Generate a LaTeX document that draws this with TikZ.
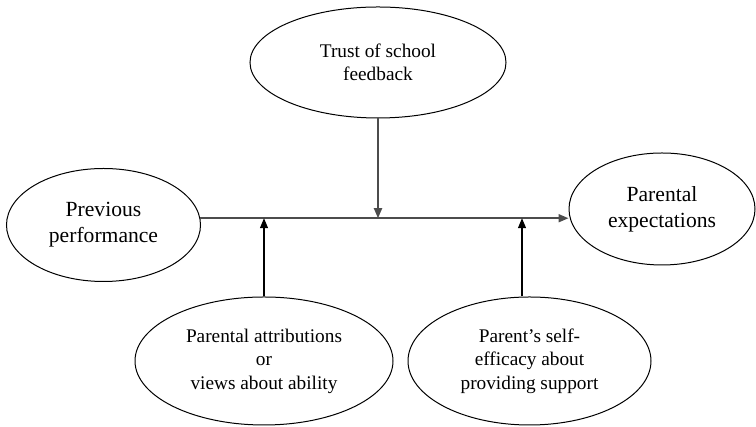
\documentclass[tikz,border=0pt]{standalone}
\usepackage{fontspec}
\setmainfont{Liberation Serif}
\usetikzlibrary{shapes.geometric,arrows.meta}

\begin{document}
\begin{tikzpicture}[x=0.5pt,y=0.5pt,
  font={\fontsize{9.65}{11.7}\selectfont},
  factor/.style={ellipse,draw,line width=0.5pt,inner sep=0pt,align=center},
  big/.style={font={\fontsize{10.8}{12.9}\selectfont}},
  link/.style={-{Triangle[length=5pt,width=4pt]},line width=0.65pt}]
\useasboundingbox (0,0) rectangle (756,427);

% factors
\node[factor,minimum width=128pt,minimum height=55.5pt] (trust) at (378,364.5)
  {Trust of school\\feedback};
\node[factor,big,minimum width=97pt,minimum height=56.5pt] (prev) at (103.5,202)
  {Previous\\performance};
\node[factor,big,minimum width=93pt,minimum height=56pt] (expect) at (662,218)
  {Parental\\expectations};
\node[factor,minimum width=129pt,minimum height=64pt] (attrib) at (264,66)
  {Parental attributions\\or\\views about ability};
\node[factor,minimum width=121.5pt,minimum height=64pt] (eff) at (529.5,66)
  {Parent's self-\\efficacy about\\providing support};

% main path
\draw[link,black!70,line width=0.9pt] (prev.4) -- (expect.west |- prev.4);

% moderators meet the main path
\coordinate (j1) at (attrib.north |- prev.4);
\coordinate (j2) at (trust.south |- prev.4);
\coordinate (j3) at (522,0 |- prev.4);

\draw[link,black!70,line width=0.9pt] (trust.south) -- (j2);
\draw[link] (attrib.north) -- (j1);
\draw[link] (j3 |- eff.north) -- (j3);

\end{tikzpicture}
\end{document}
